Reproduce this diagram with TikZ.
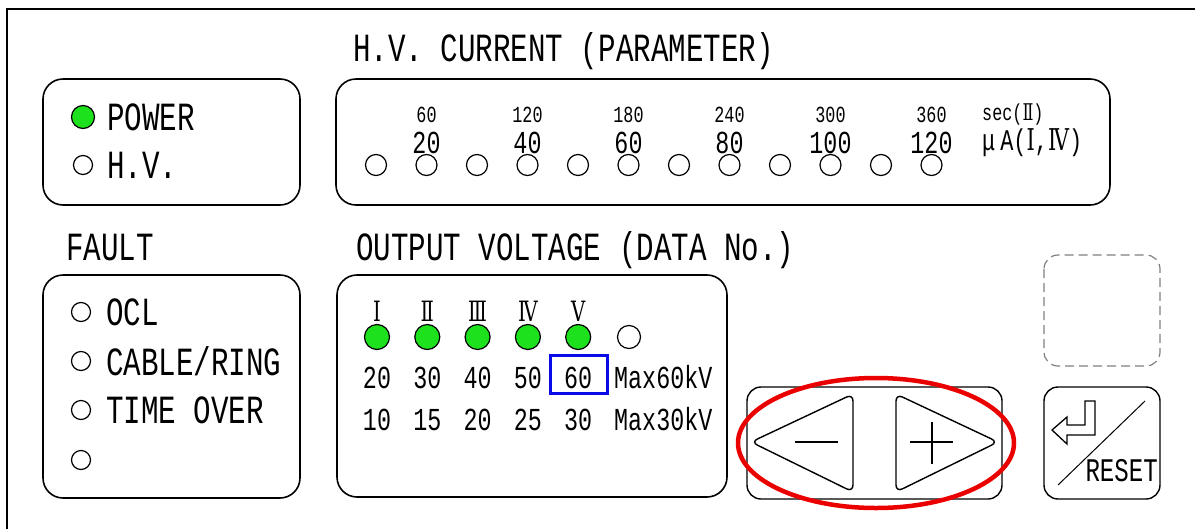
\documentclass[tikz,border=0pt]{standalone}
\usepackage{fontspec}
\setmainfont{Liberation Mono}[FakeStretch=0.73]
\newfontfamily\romfont{DejaVu Serif}[FakeStretch=0.7]
\usetikzlibrary{positioning}
\definecolor{ledcolor}{RGB}{30,225,30}
\definecolor{markcolor}{RGB}{10,10,230}
\definecolor{ringcolor}{RGB}{235,0,0}

\begin{document}
\begin{tikzpicture}[
    x=1pt, y=-1pt,
    panel/.style={draw, line width=1.6pt, rounded corners=20pt},
    keybox/.style={draw, line width=1.4pt, rounded corners=14pt},
    led/.style={circle, draw, line width=1.2pt, inner sep=0pt, minimum size=#1},
    led/.default=19pt,
    ledon/.style={led=23pt, fill=ledcolor},
    title/.style={font=\fontsize{40}{44}\selectfont, inner sep=0pt, anchor=base west},
    lbl/.style={font=\fontsize{40}{44}\selectfont, inner sep=0pt, text depth=0pt},
    val/.style={font=\fontsize{32}{36}\selectfont, inner sep=0pt, anchor=base},
    small/.style={font=\fontsize{23}{26}\selectfont, inner sep=0pt, anchor=base},
    roml/.style={font=\romfont\fontsize{28}{30}\selectfont, inner sep=0pt, anchor=base}
]
    \useasboundingbox (0,0) rectangle (1195,528);
    % outer frame
    \draw[line width=2.2pt] (7,540) -- (7,9) -- (1210,9);

    % power
    \draw[panel] (43,79) rectangle (300,205);
    \node[ledon] (pwrled) at (83,117) {};
    \node[led] (hvled) at (83,165) {};
    \node[lbl, right=24pt of pwrled.center] (pwrtxt) {POWER};
    \node[lbl, right=24pt of hvled.center] (hvtxt) {H.V.};

    % h.v. current
    \node[title] (curtitle) at (353,61) {H.V.~CURRENT (PARAMETER)};
    \draw[panel] (336,79) rectangle (1110,205);
    \foreach \i in {0,...,11}
        \node[led=21pt] (cur\i) at ({376+50.5*\i},165) {};
    \foreach \s/\b [count=\k] in {60/20,120/40,180/60,240/80,300/100,360/120} {
        \node[small] (sec\k) at ({376+50.5*(2*\k-1)},122) {\s};
        \node[val] (amp\k) at ({376+50.5*(2*\k-1)},153) {\b};
    }
    \node[small, anchor=base west] (secunit) at (982,120) {sec({\romfont Ⅱ})};
    \node[font=\fontsize{30}{32}\selectfont, inner sep=0pt, anchor=base west] (ampunit) at (982,150) {μ\,A({\romfont Ⅰ},{\romfont Ⅳ})};

    % fault
    \node[title] (faulttitle) at (66,260) {FAULT};
    \draw[panel] (43,275) rectangle (300,498);
    \node[led] (oclled) at (81,312) {};
    \node[led] (cableled) at (81,361) {};
    \node[led] (timeled) at (81,410) {};
    \node[led] (spareled) at (81,460) {};
    \node[lbl, right=25pt of oclled.center] (ocltxt) {OCL};
    \node[lbl, right=25pt of cableled.center] (cabletxt) {CABLE/RING};
    \node[lbl, right=25pt of timeled.center] (timetxt) {TIME OVER};

    % output voltage
    \node[title] (outtitle) at (356,260) {OUTPUT VOLTAGE (DATA No.)};
    \draw[panel] (337,275) rectangle (727,497);
    \foreach \r/\a/\b [count=\k] in {Ⅰ/20/10,Ⅱ/30/15,Ⅲ/40/20,Ⅳ/50/25,Ⅴ/60/30} {
        \node[roml] (no\k) at ({377+50.3*(\k-1)},321) {\r};
        \node[ledon, led=25pt] (out\k) at ({377+50.3*(\k-1)},337) {};
        \node[val] (hi\k) at ({377+50.3*(\k-1)},388) {\a};
        \node[val] (lo\k) at ({377+50.3*(\k-1)},430) {\b};
    }
    \node[led=23pt] (out6) at (629,337) {};
    \node[val, anchor=base west] (himax) at (614,388) {Max60kV};
    \node[val, anchor=base west] (lomax) at (614,430) {Max30kV};
    \node[draw=markcolor, line width=3pt, minimum width=57pt, minimum height=38pt] (mark) at (578.5,374) {};

    % keys
    \draw[keybox, gray, line width=1.2pt, dash pattern=on 9pt off 5pt] (1044,255) rectangle (1160,366);
    \draw[keybox] (747,387) rectangle (1002,499);
    \draw[line width=1.4pt, rounded corners=7pt] (751,442) -- (853,394) -- (853,492) -- cycle;
    \draw[line width=1.4pt] (795,442) -- (838,442);
    \draw[line width=1.4pt, rounded corners=7pt] (998,442) -- (896,394) -- (896,492) -- cycle;
    \draw[line width=1.4pt] (910,442) -- (953,442) (932,422) -- (932,464);
    \draw[ringcolor, line width=4.5pt] (876,443) ellipse [x radius=138, y radius=65];

    % reset
    \draw[keybox] (1044,387) rectangle (1160,499);
    \draw[line width=1.3pt] (1085,401) -- (1095,401) -- (1095,435) -- (1067,435) -- (1067,444)
        -- (1052,430) -- (1067,417) -- (1067,425) -- (1085,425) -- cycle;
    \draw[line width=1pt] (1145,401) -- (1058,485);
    \node[font=\fontsize{33}{36}\selectfont, inner sep=0pt, anchor=base east] (resettxt) at (1158,481) {RESET};
\end{tikzpicture}
\end{document}
